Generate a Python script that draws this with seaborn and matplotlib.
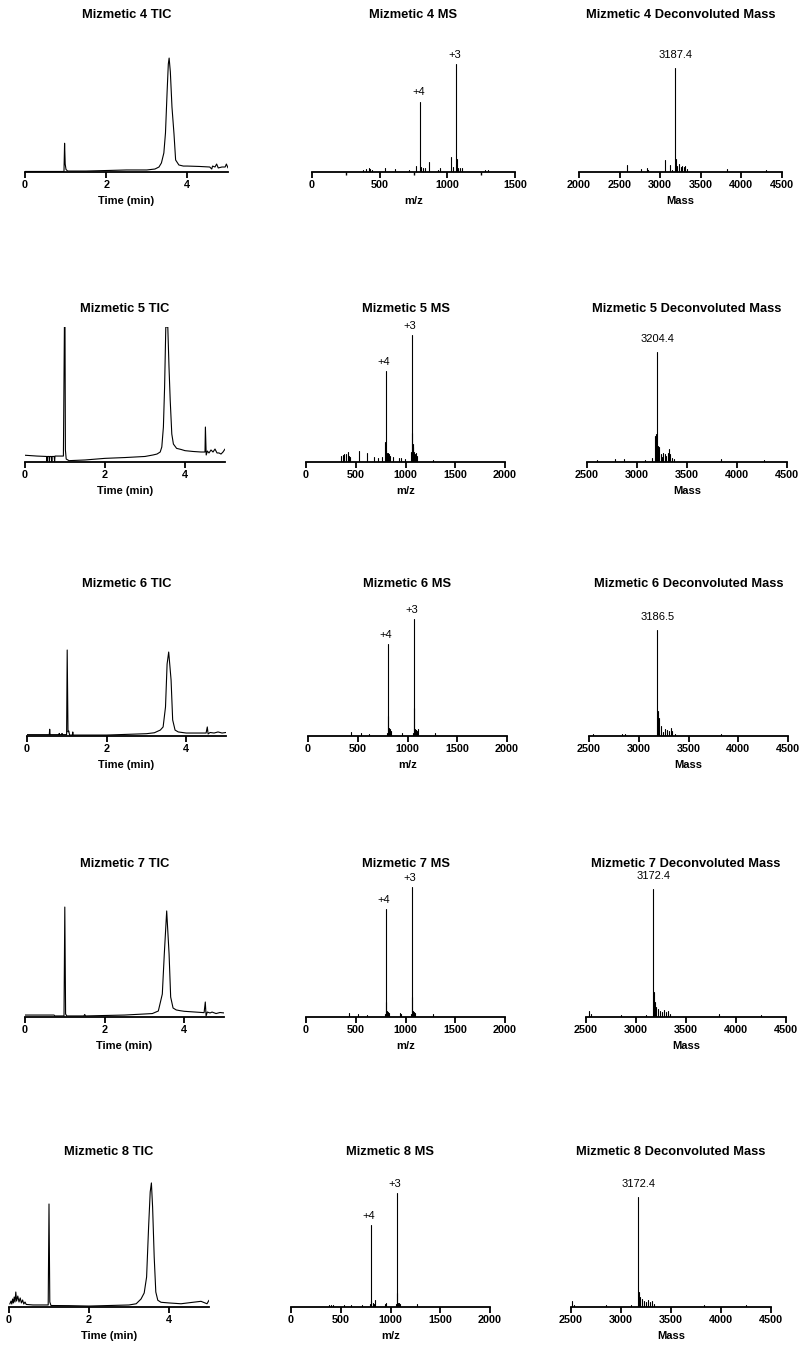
import matplotlib
matplotlib.use("Agg")
import matplotlib.pyplot as plt
import pandas as pd
import seaborn as sns

# ---------------------------------------------------------------------------
# Data: relative intensities (% of each panel's y range)
# ---------------------------------------------------------------------------
samples = ["4", "5", "6", "7", "8"]

# Total ion chromatograms (time in min)
tic4_time = [0, 0.5, 0.96, 0.975, 0.99, 1.01, 1.05, 1.5, 2.0, 2.5, 3.0, 3.2, 3.3, 3.36, 3.42, 3.46, 3.5, 3.53, 3.55, 3.58,
             3.62, 3.67, 3.71, 3.79, 3.9, 4.0, 4.3, 4.55, 4.6, 4.62, 4.68, 4.72, 4.76, 4.85, 4.93, 4.96, 5.0]
tic4_int = [0.4, 0.4, 0.4, 21.3, 5.9, 1.9, 0.7, 0.7, 1.1, 1.5, 1.5, 2.2, 3.7, 6.7, 14.1, 28.9, 59.3, 80.0, 84.4, 74.1,
            48.1, 28.1, 8.9, 5.2, 4.4, 4.4, 4.1, 3.7, 2.2, 4.4, 3.7, 5.9, 3.0, 3.7, 3.7, 5.9, 3.0]

tic5_time = [0, 0.3, 0.54, 0.55, 0.56, 0.6, 0.61, 0.62, 0.66, 0.67, 0.68, 0.73, 0.74, 0.75, 0.96, 0.985, 1.0, 1.01, 1.03, 1.1,
             1.5, 2.0, 2.5, 3.0, 3.2, 3.3, 3.38, 3.42, 3.46, 3.49, 3.52, 3.57, 3.6, 3.63, 3.67, 3.71, 3.79, 3.9, 4.0, 4.2,
             4.4, 4.5, 4.51, 4.53, 4.56, 4.6, 4.65, 4.7, 4.75, 4.8, 4.85, 4.9, 4.95, 5.0]
tic5_int = [5.0, 4.4, 4.1, 0.4, 4.1, 4.1, 0.4, 4.1, 4.1, 0.4, 4.1, 4.1, 0.4, 4.4, 4.4, 100, 100, 8.9, 2.2, 1.0,
            1.5, 2.7, 3.3, 4.1, 5.2, 5.9, 7.4, 11.1, 25.9, 55.6, 100, 100, 70.4, 45.9, 20.7, 13.3, 10.1, 9.3, 8.4, 7.8,
            7.4, 7.4, 25.9, 5.2, 8.1, 6.7, 8.9, 7.4, 9.6, 6.7, 6.7, 5.9, 7.4, 9.6]

tic6_time = [0, 0.5, 0.56, 0.57, 0.58, 0.8, 0.81, 0.82, 0.87, 0.88, 0.89, 0.995, 1.01, 1.03, 1.05, 1.07, 1.14, 1.15, 1.16, 1.5,
             2.0, 2.3, 3.0, 3.2, 3.35, 3.42, 3.48, 3.52, 3.56, 3.59, 3.62, 3.66, 3.72, 3.8, 4.0, 4.5, 4.53, 4.55, 4.6, 4.7,
             4.8, 4.9, 5.0]
tic6_int = [1.0, 1.0, 1.0, 5.0, 1.0, 1.0, 1.9, 1.0, 1.0, 1.9, 1.0, 1.0, 63.7, 3.0, 3.7, 0.7, 0.7, 3.0, 0.7, 0.7,
            0.7, 1.0, 1.7, 2.4, 4.4, 6.7, 21.5, 53.3, 62.2, 51.9, 41.5, 11.9, 4.4, 3.0, 2.2, 2.2, 6.7, 1.5, 2.6, 2.2,
            3.0, 2.2, 2.6]

tic7_time = [0, 0.5, 0.73, 0.75, 0.98, 1.0, 1.02, 1.05, 1.48, 1.5, 1.52, 2.0, 2.5, 3.0, 3.2, 3.35, 3.45, 3.5, 3.56, 3.62,
             3.66, 3.72, 3.8, 3.9, 4.0, 4.5, 4.53, 4.55, 4.58, 4.65, 4.7, 4.8, 4.9, 5.0]
tic7_int = [1.3, 1.3, 1.3, 0.7, 0.7, 73.3, 2.0, 0.7, 0.7, 1.7, 0.7, 1.0, 1.3, 2.0, 2.3, 4.0, 15.3, 42.0, 70.7, 42.0,
            13.3, 6.0, 4.7, 4.2, 3.8, 2.9, 10.0, 0.7, 3.3, 2.7, 3.3, 2.3, 3.0, 2.7]

tic8_time = [0.02, 0.05, 0.07, 0.09, 0.11, 0.13, 0.15, 0.17, 0.19, 0.22, 0.25, 0.28, 0.31, 0.34, 0.37, 0.4, 0.43,
             0.6, 0.98, 1.0, 1.02, 1.05, 1.5, 2.0, 2.5, 3.0, 3.18, 3.3, 3.38, 3.44, 3.49, 3.53, 3.56, 3.59, 3.63, 3.67,
             3.72, 3.8, 4.0, 4.3, 4.6, 4.8, 4.95, 5.0]
tic8_int = [2.2, 4.4, 2.2, 5.9, 3.0, 7.4, 3.7, 11.1, 4.4, 8.1, 3.7, 6.7, 3.0, 5.2, 2.2, 3.7, 1.9,
            1.5, 1.5, 76.3, 3.7, 1.1, 1.0, 0.7, 1.1, 1.5, 2.4, 5.9, 10.4, 22.2, 59.3, 85.2, 91.9, 74.1, 37.0, 11.1,
            5.0, 3.5, 3.0, 2.4, 3.5, 4.2, 2.4, 5.0]

# Mass spectra (m/z)
ms4_mz = [380, 400, 418, 430, 440, 541, 610, 718, 770, 799, 808, 822, 835, 865, 930, 947, 1025, 1040, 1062, 1068,
          1080, 1094, 1106, 1279, 1300]
ms4_int = [1.5, 1.9, 3.0, 2.2, 1.5, 3.0, 2.2, 1.5, 4.4, 52.1, 3.7, 3.0, 3.0, 7.4, 1.5, 3.0, 10.9, 3.7, 80.0, 9.4,
           3.0, 3.0, 3.0, 1.5, 1.5]

ms5_mz = [355, 370, 385, 400, 420, 430, 445, 535, 612, 682, 720, 760, 795, 799, 805, 815, 822, 830, 840, 870,
          936, 955, 990, 1058, 1062, 1066, 1072, 1078, 1085, 1095, 1105, 1115, 1278]
ms5_int = [4.4, 5.2, 5.9, 5.9, 7.7, 4.4, 3.7, 8.4, 6.4, 3.7, 3.0, 3.7, 14.8, 67.4, 8.9, 6.7, 6.7, 5.9, 4.4, 3.7,
           3.0, 3.0, 2.2, 7.4, 94.1, 21.3, 13.3, 11.1, 7.4, 5.9, 6.7, 4.4, 1.5]

ms6_mz = [432, 536, 610, 794, 799, 803, 810, 818, 826, 834, 948, 1058, 1062, 1066, 1074, 1082, 1090, 1100, 1110, 1273]
ms6_int = [3.0, 1.9, 1.5, 2.2, 67.9, 14.8, 5.9, 4.4, 5.2, 3.7, 2.2, 2.2, 86.7, 20.5, 5.2, 4.4, 4.4, 3.7, 5.2, 2.2]

ms7_mz = [430, 520, 610, 794, 799, 805, 812, 820, 830, 940, 955, 1058, 1062, 1066, 1074, 1085, 1100, 1275]
ms7_int = [2.7, 2.0, 1.3, 2.0, 72.0, 10.0, 4.0, 3.3, 2.7, 2.7, 2.0, 2.0, 86.7, 13.3, 4.0, 3.3, 2.7, 2.0]

ms8_mz = [380, 400, 425, 535, 602, 712, 793, 799, 805, 820, 835, 846, 946, 955, 1056, 1062, 1066, 1075, 1085, 1095, 1271]
ms8_int = [1.5, 1.5, 1.5, 1.7, 1.5, 1.5, 2.2, 60.7, 4.7, 3.2, 2.2, 5.2, 2.2, 2.6, 2.2, 84.2, 10.1, 3.0, 2.6, 2.2, 2.2]

# Charge-state assignments of the two main ions
ion_labels = ["+4", "+3"]
ion_mz = [799, 1062]

# Deconvoluted spectra (mass, Da)
dec4_mass = [2590, 2760, 2840, 2855, 3063, 3121, 3150, 3187.4, 3200, 3210, 3230, 3255, 3270, 3290, 3310, 3330, 3827, 4300]
dec4_int = [5.2, 2.2, 3.0, 1.5, 8.9, 5.2, 1.5, 76.8, 9.6, 4.4, 5.9, 3.7, 4.4, 3.7, 4.4, 2.2, 2.2, 1.5]

dec5_mass = [2600, 2777, 2870, 3080, 3145, 3180, 3188, 3196, 3204.4, 3212, 3222, 3235, 3248, 3262, 3275, 3290, 3305,
             3318, 3330, 3350, 3370, 3841, 4266]
dec5_int = [1.5, 2.2, 2.2, 1.5, 3.0, 19.3, 20.7, 10.4, 81.3, 11.9, 11.1, 5.9, 3.7, 6.7, 5.9, 4.4, 6.7,
            9.4, 5.9, 3.0, 2.2, 2.2, 1.5]

dec6_mass = [2544, 2829, 2860, 3186.5, 3195, 3205, 3220, 3245, 3260, 3280, 3300, 3320, 3335, 3360, 3822]
dec6_int = [1.5, 1.5, 1.5, 78.5, 18.5, 13.3, 7.4, 3.0, 5.0, 4.4, 3.7, 5.9, 3.7, 1.5, 1.5]

dec7_mass = [2530, 2545, 2850, 3100, 3172.4, 3180, 3188, 3200, 3215, 3240, 3260, 3280, 3300, 3320, 3340, 3830, 4250]
dec7_int = [4.0, 2.0, 1.3, 1.3, 85.3, 16.7, 10.0, 6.7, 5.3, 4.0, 3.3, 4.7, 3.3, 4.0, 2.0, 2.0, 1.3]

dec8_mass = [2510, 2525, 2850, 3100, 3172.4, 3180, 3190, 3205, 3225, 3245, 3265, 3290, 3310, 3330, 3830, 4250]
dec8_int = [4.4, 1.5, 1.5, 1.5, 81.5, 11.1, 7.4, 5.9, 4.4, 3.7, 5.2, 3.7, 4.4, 2.2, 1.5, 1.5]

tic_data = [(tic4_time, tic4_int), (tic5_time, tic5_int), (tic6_time, tic6_int),
            (tic7_time, tic7_int), (tic8_time, tic8_int)]
ms_data = [(ms4_mz, ms4_int), (ms5_mz, ms5_int), (ms6_mz, ms6_int), (ms7_mz, ms7_int), (ms8_mz, ms8_int)]
dec_data = [(dec4_mass, dec4_int), (dec5_mass, dec5_int), (dec6_mass, dec6_int),
            (dec7_mass, dec7_int), (dec8_mass, dec8_int)]

# Axis ranges and ticks
tic_ticks = [0, 2, 4]
ms_ranges = [(0, 1500), (0, 2000), (0, 2000), (0, 2000), (0, 2000)]
ms_ticks = [[0, 500, 1000, 1500], [0, 500, 1000, 1500, 2000], [0, 500, 1000, 1500, 2000],
            [0, 500, 1000, 1500, 2000], [0, 500, 1000, 1500, 2000]]
dec_ranges = [(2000, 4500), (2500, 4500), (2500, 4500), (2500, 4500), (2500, 4500)]
dec_ticks = [[2000, 2500, 3000, 3500, 4000, 4500]] + [[2500, 3000, 3500, 4000, 4500]] * 4

# ---------------------------------------------------------------------------
# Page layout (pixels): baseline of x axis, plot height, title centre,
# and horizontal extent of each column's x axis
# ---------------------------------------------------------------------------
FIG_W, FIG_H = 800, 1345
XLAB_GAP = 29
layout = [
    dict(base=172, h=135, title=15, cols=[(25, 228), (312, 515), (579, 782)]),
    dict(base=462, h=135, title=309, cols=[(25, 225), (306, 505), (587, 787)]),
    dict(base=736, h=135, title=584, cols=[(27, 226), (308, 507), (589, 788)]),
    dict(base=1017, h=150, title=864, cols=[(25, 224), (306, 505), (586, 786)]),
    dict(base=1307, h=135, title=1152, cols=[(9, 209), (291, 490), (571, 771)]),
]

sns.set_theme(style="ticks")
plt.rcParams["font.family"] = ["Liberation Sans", "DejaVu Sans"]
plt.rcParams.update({"axes.edgecolor": "black", "xtick.color": "black", "text.color": "black",
                     "axes.labelcolor": "black"})

fig = plt.figure(figsize=(FIG_W / 100, FIG_H / 100), dpi=100)
LW = 0.8


def make_axes(row, col):
    x0, x1 = row["cols"][col]
    rect = [x0 / FIG_W, 1 - row["base"] / FIG_H, (x1 - x0) / FIG_W, row["h"] / FIG_H]
    return fig.add_axes(rect)


def style_axes(ax, row, xlim, ticks, title, xlabel, minor=None):
    ax.set_xlim(*xlim)
    ax.set_ylim(0, 100)
    sns.despine(ax=ax, left=True, top=True, right=True)
    ax.spines["bottom"].set_linewidth(1.3)
    ax.set_yticks([])
    ax.set_ylabel("")
    ax.set_xticks(ticks)
    ax.set_xticklabels([str(t) for t in ticks], fontsize=7.8, fontweight="bold")
    ax.tick_params(axis="x", direction="out", length=4, width=1.3, pad=2)
    if minor:
        ax.set_xticks(minor, minor=True)
        ax.tick_params(axis="x", which="minor", direction="out", length=2.5, width=1.0)
    ax.set_xlabel(xlabel, fontsize=8, fontweight="bold")
    ax.xaxis.set_label_coords(0.5, -XLAB_GAP / row["h"])
    ax.xaxis.label.set_va("center")
    ax.text(0.5, (row["base"] - row["title"]) / row["h"], title, transform=ax.transAxes,
            ha="center", va="center", fontsize=9.3, fontweight="bold")
    ax.patch.set_alpha(0)


def stick_frame(pos, inten):
    rows = []
    for i, (p, v) in enumerate(zip(pos, inten)):
        rows.append((p, 0.0, i))
        rows.append((p, v, i))
    return pd.DataFrame(rows, columns=["pos", "val", "peak"])


for r, (name, row) in enumerate(zip(samples, layout)):
    # chromatogram
    ax = make_axes(row, 0)
    t, y = tic_data[r]
    sns.lineplot(x=t, y=y, ax=ax, color="black", linewidth=LW, estimator=None, sort=False)
    style_axes(ax, row, (0, 5), tic_ticks, f"Mizmetic {name} TIC", "Time (min)")

    # mass spectrum
    ax = make_axes(row, 1)
    mz, inten = ms_data[r]
    sns.lineplot(data=stick_frame(mz, inten), x="pos", y="val", units="peak", estimator=None,
                 sort=False, ax=ax, color="black", linewidth=LW)
    minor = [250, 750, 1250] if ms_ranges[r][1] == 1500 else None
    style_axes(ax, row, ms_ranges[r], ms_ticks[r], f"Mizmetic {name} MS", "m/z", minor)
    for lab, m in zip(ion_labels, ion_mz):
        v = inten[mz.index(m)]
        ax.annotate(lab, xy=(m, v), xytext=(-1, 3), textcoords="offset points",
                    ha="center", va="bottom", fontsize=8)

    # deconvoluted spectrum
    ax = make_axes(row, 2)
    mass, inten = dec_data[r]
    sns.lineplot(data=stick_frame(mass, inten), x="pos", y="val", units="peak", estimator=None,
                 sort=False, ax=ax, color="black", linewidth=LW)
    style_axes(ax, row, dec_ranges[r], dec_ticks[r], f"Mizmetic {name} Deconvoluted Mass", "Mass")
    k = max(range(len(inten)), key=lambda i: inten[i])
    ax.annotate(f"{mass[k]:.1f}", xy=(mass[k], inten[k]), xytext=(0, 6), textcoords="offset points",
                ha="center", va="bottom", fontsize=8)

fig.savefig("out.png", dpi=100)
